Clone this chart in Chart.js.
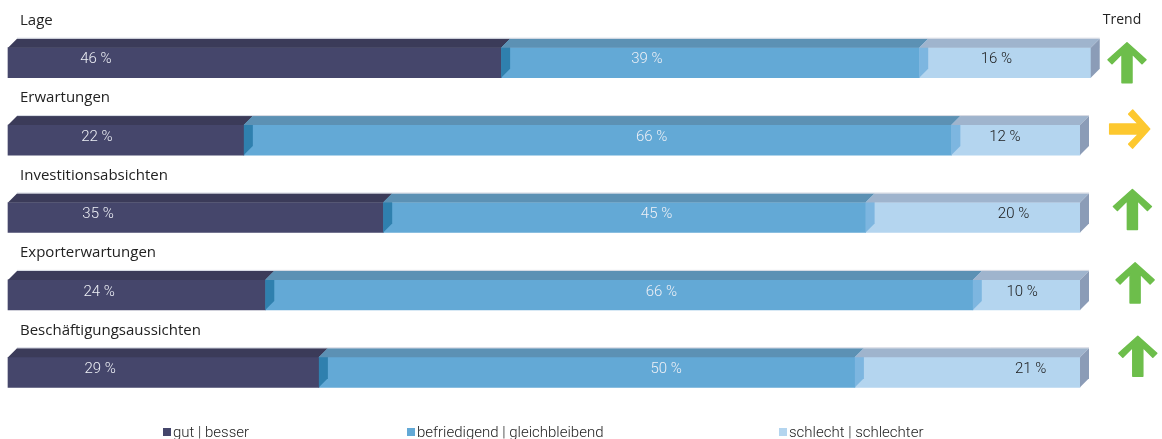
<!DOCTYPE html>
<html lang="de">
<head>
<meta charset="utf-8">
<script src="https://cdn.jsdelivr.net/npm/chart.js@4"></script>
<style>
  html, body { margin: 0; padding: 0; background: #fff; }
  #wrap { width: 1162px; height: 439px; }
</style>
</head>
<body>
<div id="wrap"><canvas id="umfrage" width="1162" height="439"></canvas></div>
<script>
// Umfrageergebnisse je Kategorie (Anteile in %)
const kategorien = ['Lage', 'Erwartungen', 'Investitionsabsichten', 'Exporterwartungen', 'Beschäftigungsaussichten'];
const gut = [46, 22, 35, 24, 29];
const befriedigend = [39, 66, 45, 66, 50];
const schlecht = [16, 12, 20, 10, 21];
const trends = ['up', 'right', 'up', 'up', 'up'];
const serienNamen = ['gut | besser', 'befriedigend | gleichbleibend', 'schlecht | schlechter'];

// Farben: Vorderseite, Oberseite, Seitenkante
const farben = [
  { front: '#45466b', top: '#3b3b59', side: '#2f80ae' },
  { front: '#63a9d6', top: '#5c91b4', side: '#7db6e0' },
  { front: '#b4d5ef', top: '#9fb4cd', side: '#8b9cb7' }
];
const TIEFE = 9;

const quader = {
  id: 'quader',
  afterDatasetsDraw(chart) {
    const ctx = chart.ctx;
    const n = chart.data.datasets.length;
    ctx.save();
    chart.data.datasets.forEach((ds, di) => {
      const meta = chart.getDatasetMeta(di);
      meta.data.forEach((bar) => {
        const x0 = Math.min(bar.base, bar.x), x1 = Math.max(bar.base, bar.x);
        const yT = bar.y - bar.height / 2, yB = bar.y + bar.height / 2;
        // Oberseite
        ctx.fillStyle = farben[di].top;
        ctx.beginPath();
        ctx.moveTo(x0, yT);
        ctx.lineTo(x0 + TIEFE, yT - TIEFE);
        ctx.lineTo(x1 + TIEFE, yT - TIEFE);
        ctx.lineTo(x1, yT);
        ctx.closePath();
        ctx.fill();
        // Seitenfläche am rechten Ende des Segments
        ctx.fillStyle = farben[di].side;
        ctx.beginPath();
        ctx.moveTo(x1, yT);
        ctx.lineTo(x1 + TIEFE, yT - TIEFE);
        ctx.lineTo(x1 + TIEFE, yB - TIEFE);
        ctx.lineTo(x1, yB);
        ctx.closePath();
        ctx.fill();
      });
    });
    // Lichtkante oben
    const m0 = chart.getDatasetMeta(0), mL = chart.getDatasetMeta(n - 1);
    m0.data.forEach((bar, i) => {
      const end = mL.data[i];
      const yT = bar.y - bar.height / 2 - TIEFE;
      ctx.strokeStyle = 'rgba(200,205,218,0.8)';
      ctx.lineWidth = 1;
      ctx.beginPath();
      ctx.moveTo(bar.base + TIEFE, yT - 0.5);
      ctx.lineTo(end.x + TIEFE, yT - 0.5);
      ctx.stroke();
    });
    ctx.restore();
  }
};

function pfeil(ctx, cx, cy, richtung, farbe) {
  // Pfeil nach oben, Ursprung in der Mitte, 38 x 40
  const pts = [[0, -20], [19, -3], [15, 1], [5, -9], [5, 20], [-5, 20], [-5, -9], [-15, 1], [-19, -3]];
  ctx.save();
  ctx.translate(cx, cy);
  if (richtung === 'right') ctx.rotate(Math.PI / 2);
  ctx.fillStyle = farbe;
  ctx.strokeStyle = farbe;
  ctx.lineJoin = 'round';
  ctx.lineWidth = 1.5;
  ctx.beginPath();
  pts.forEach(([x, y], k) => (k ? ctx.lineTo(x, y) : ctx.moveTo(x, y)));
  ctx.closePath();
  ctx.fill();
  ctx.stroke();
  ctx.restore();
}

const beschriftung = {
  id: 'beschriftung',
  afterDraw(chart) {
    const ctx = chart.ctx;
    const xs = chart.scales.x;
    const metas = chart.data.datasets.map((_, i) => chart.getDatasetMeta(i));
    ctx.save();
    kategorien.forEach((kat, i) => {
      const y = metas[0].data[i].y;
      // Kategorie über dem Balken
      ctx.font = '15px "Open Sans", "Noto Sans", sans-serif';
      ctx.fillStyle = '#222';
      ctx.textAlign = 'left';
      ctx.textBaseline = 'middle';
      ctx.fillText(kat, 20, y - 42);
      // Prozentwerte
      ctx.font = '300 15px Roboto, "Liberation Sans", sans-serif';
      ctx.textAlign = 'center';
      const pos = [8.2 + i * 0.1, 59.6 + i * 0.45, 92.2 + i * 0.8];
      chart.data.datasets.forEach((ds, di) => {
        ctx.fillStyle = di < 2 ? '#eef0f6' : '#1a1a1a';
        ctx.fillText(ds.data[i] + ' %', xs.getPixelForValue(pos[di]), y - 3);
      });
      // Trendpfeil
      const gelb = trends[i] === 'right';
      pfeil(ctx, 1127 + i * 2.7, y - i * 4 - (gelb ? 7 : 0), trends[i], gelb ? '#fdc82f' : '#6dbe4b');
    });
    ctx.font = '14px "Open Sans", "Noto Sans", sans-serif';
    ctx.fillStyle = '#222';
    ctx.textAlign = 'center';
    ctx.textBaseline = 'middle';
    ctx.fillText('Trend', 1122, 20);

    // Legende
    ctx.font = '300 15px Roboto, "Liberation Sans", sans-serif';
    ctx.textAlign = 'left';
    ctx.textBaseline = 'alphabetic';
    const startX = [163, 407, 779];
    serienNamen.forEach((name, k) => {
      ctx.fillStyle = farben[k].front;
      ctx.fillRect(startX[k], 428, 8, 8);
      ctx.fillStyle = '#222';
      ctx.fillText(name, startX[k] + 10, 437);
    });
    ctx.restore();
  }
};

new Chart(document.getElementById('umfrage'), {
  type: 'bar',
  data: {
    labels: kategorien,
    datasets: [gut, befriedigend, schlecht].map((werte, k) => ({
      label: serienNamen[k],
      data: werte,
      backgroundColor: farben[k].front,
      borderWidth: 0,
      barThickness: 30,
      clip: false
    }))
  },
  options: {
    indexAxis: 'y',
    responsive: false,
    animation: false,
    devicePixelRatio: 1,
    layout: { padding: { left: 8, right: 82, top: 24, bottom: 28 } },
    scales: {
      x: { stacked: true, min: 0, max: 100, display: false },
      y: { stacked: true, display: false }
    },
    plugins: {
      legend: { display: false },
      tooltip: { enabled: false }
    }
  },
  plugins: [quader, beschriftung]
});
</script>
</body>
</html>
